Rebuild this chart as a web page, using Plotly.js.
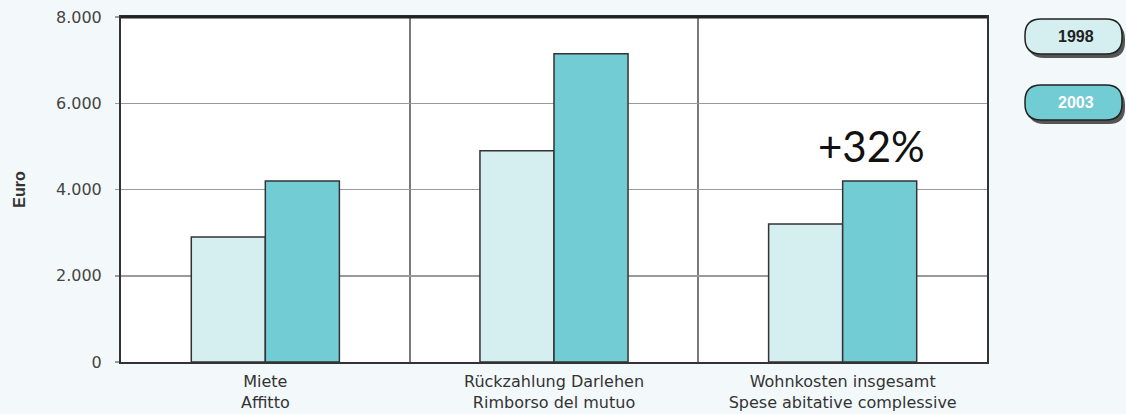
<!DOCTYPE html>
<html>
<head>
<meta charset="utf-8">
<script src="https://cdn.plot.ly/plotly-3.0.1.min.js"></script>
<style>html,body{margin:0;padding:0;background:#f3f9fa;}#chart{width:1126px;height:414px;}</style>
</head>
<body>
<div id="chart"></div>
<script>
// ---- data ----
const categories = ['Miete<br>Affitto', 'Rückzahlung Darlehen<br>Rimborso del mutuo', 'Wohnkosten insgesamt<br>Spese abitative complessive'];
const series = ['1998', '2003'];
const values1998 = [2900, 4900, 3200];
const values2003 = [4200, 7150, 4200];
const yTicks = [0, 2000, 4000, 6000, 8000];
const yTitle = 'Euro';
const changeLabel = '+32%';

// ---- layout helpers (pixel -> paper) ----
const M = {l: 121, r: 139, t: 17, b: 52};
const W = 1126, H = 414;
const pw = W - M.l - M.r, ph = H - M.t - M.b;
const px = x => (x - M.l) / pw;
const py = y => (H - M.b - y) / ph;
function pill(x0, y0, x1, y1, r) {
  const X0 = px(x0), X1 = px(x1), Xa = px(x0 + r), Xb = px(x1 - r);
  const Y0 = py(y0), Y1 = py(y1), Ya = py(y0 + r), Yb = py(y1 - r);
  return `M${Xa},${Y0} L${Xb},${Y0} Q${X1},${Y0} ${X1},${Ya} L${X1},${Yb} Q${X1},${Y1} ${Xb},${Y1} L${Xa},${Y1} Q${X0},${Y1} ${X0},${Yb} L${X0},${Ya} Q${X0},${Y0} ${Xa},${Y0} Z`;
}
const colors = ['#d5eef0', '#72ccd4'];
const pills = [[1025, 19, 1122, 54], [1025, 85, 1122, 120]];

const traces = [
  {type: 'bar', name: series[0], x: categories, y: values1998,
   marker: {color: colors[0], line: {color: '#333', width: 1.5}}},
  {type: 'bar', name: series[1], x: categories, y: values2003,
   marker: {color: colors[1], line: {color: '#333', width: 1.5}}}
];

const shapes = [];
const annotations = [];
pills.forEach((p, i) => {
  shapes.push({type: 'path', xref: 'paper', yref: 'paper', path: pill(p[0] + 3, p[1] + 4, p[2] + 3, p[3] + 4, 16),
    fillcolor: '#555555', line: {width: 0}, layer: 'above'});
  shapes.push({type: 'path', xref: 'paper', yref: 'paper', path: pill(p[0], p[1], p[2], p[3], 16),
    fillcolor: colors[i], line: {color: '#222', width: 1.5}, layer: 'above'});
  annotations.push({xref: 'paper', yref: 'paper', x: px((p[0] + p[2]) / 2 + 2), y: py((p[1] + p[3]) / 2),
    text: '<b>' + series[i] + '</b>', showarrow: false, xanchor: 'center', yanchor: 'middle',
    font: {family: 'Liberation Sans, Arial, sans-serif', size: 16, color: i === 0 ? '#222' : '#ffffff'}});
});
// top frame (thick dark line)
shapes.push({type: 'line', xref: 'paper', yref: 'paper', x0: 0, x1: 1, y0: 1, y1: 1, line: {color: '#222', width: 3}, layer: 'above'});
annotations.push({xref: 'paper', yref: 'y', x: px(871), y: 5000, text: changeLabel, showarrow: false,
  xanchor: 'center', yanchor: 'middle', font: {family: 'Lato, Open Sans, sans-serif', size: 42, color: '#111'}});

const layout = {
  width: W, height: H,
  margin: M,
  paper_bgcolor: '#f3f9fa',
  plot_bgcolor: '#ffffff',
  separators: ',.',
  showlegend: false,
  barmode: 'group',
  bargap: 0.487,
  bargroupgap: 0,
  font: {family: 'DejaVu Sans, Liberation Sans, sans-serif', color: '#333'},
  xaxis: {
    type: 'category', tickson: 'boundaries', showgrid: true, gridcolor: '#7a7a7a', gridwidth: 2,
    ticks: '', showline: true, mirror: true, linecolor: '#333', linewidth: 2,
    tickfont: {family: 'DejaVu Sans, sans-serif', size: 16, color: '#333'}, ticklabelstandoff: 4
  },
  yaxis: {
    range: [0, 8000], tickvals: yTicks, tickformat: ',d', showgrid: true, gridcolor: '#9a9a9a', gridwidth: 1.5,
    ticks: 'outside', ticklen: 4, tickcolor: '#9a9a9a', tickwidth: 1.5,
    showline: true, mirror: true, linecolor: '#333', linewidth: 2, zeroline: false,
    tickfont: {family: 'DejaVu Sans, sans-serif', size: 16, color: '#444'}, ticklabelstandoff: 10,
    title: {text: '<b>' + yTitle + '</b>', font: {family: 'Liberation Sans, Arial, sans-serif', size: 16, color: '#333'}, standoff: 26}
  },
  shapes: shapes,
  annotations: annotations
};

Plotly.newPlot('chart', traces, layout, {displayModeBar: false, staticPlot: true});
</script>
</body>
</html>
